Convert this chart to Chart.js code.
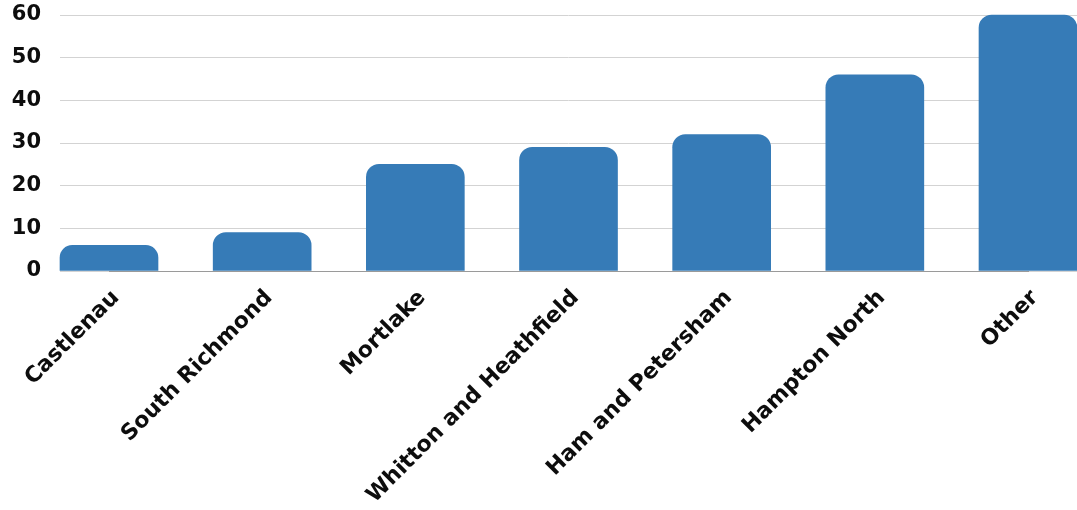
<!DOCTYPE html>
<html>
<head>
<meta charset="utf-8">
<script src="https://cdn.jsdelivr.net/npm/chart.js@4"></script>
<style>
  html, body { margin: 0; padding: 0; background: #fff; }
  #wrap { width: 1077px; height: 510px; }
</style>
</head>
<body>
<div id="wrap"><canvas id="chart"></canvas></div>
<script>
const wards = ["Castlenau", "South Richmond", "Mortlake", "Whitton and Heathfield", "Ham and Petersham", "Hampton North", "Other"];
const counts = [6, 9, 25, 29, 32, 46, 60];
const yTicks = [0, 10, 20, 30, 40, 50, 60];

const barColor = "#367bb7";
const gridColor = "#d3d3d3";
const xFont = { family: "DejaVu Sans", weight: "bold", size: 22 };
const yFont = { family: "DejaVu Sans", weight: "bold", size: 21 };

let myChart = new Chart(document.getElementById("chart"), {
    type: "bar",
    data: {
        labels: wards,
        datasets: [
            {
                data: counts,
                backgroundColor: barColor,
                borderRadius: { topLeft: 13, topRight: 13 },
                borderSkipped: "start",
                barThickness: 98,
                clip: false,
            },
        ],
    },
    options: {
        responsive: true,
        maintainAspectRatio: false,
        animation: false,
        layout: { padding: { top: 15, left: 0, right: 0, bottom: 0 } },
        plugins: {
            legend: { display: false },
            tooltip: { enabled: false },
        },
        scales: {
            x: {
                type: "category",
                offset: false,
                grid: { display: false },
                border: { color: "#9a9a9a", width: 1 },
                ticks: {
                    color: "#0d0d0d",
                    font: xFont,
                    maxRotation: 45,
                    minRotation: 45,
                    autoSkip: false,
                    padding: 6,
                    labelOffset: 7,
                },
                afterFit: (scale) => { scale.height = 239; },
            },
            y: {
                min: 0,
                max: 60,
                afterBuildTicks: (scale) => { scale.ticks = yTicks.map((v) => ({ value: v })); },
                grid: { color: gridColor, tickLength: 49, tickColor: gridColor },
                border: { display: false },
                ticks: { color: "#0d0d0d", font: yFont, padding: 19 },
                afterFit: (scale) => {
                    scale.width = 109;
                    // label padding should not push the plot down
                    scale.paddingTop = 0;
                    scale.paddingBottom = 0;
                },
            },
            y2: {
                position: "right",
                min: 0,
                max: 60,
                afterBuildTicks: (scale) => { scale.ticks = yTicks.map((v) => ({ value: v })); },
                grid: { drawOnChartArea: false, tickLength: 49, tickColor: gridColor },
                border: { display: false },
                ticks: { display: false },
                afterFit: (scale) => { scale.width = 49; },
            },
        },
    },
});
</script>
</body>
</html>
